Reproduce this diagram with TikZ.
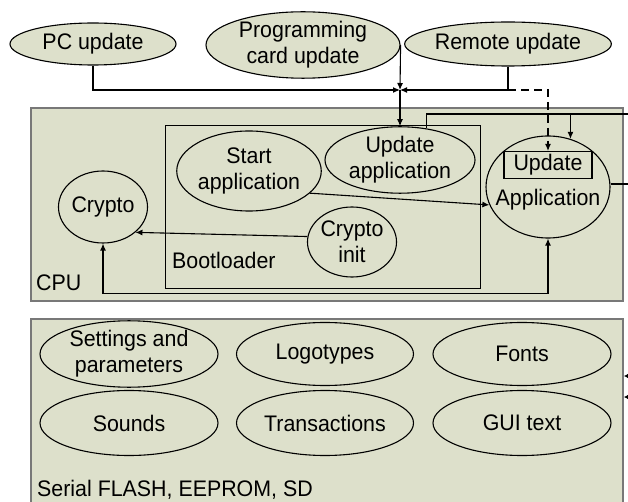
\documentclass[tikz,border=0pt]{standalone}
\usepackage{fontspec}
\setmainfont{Liberation Sans}[FakeStretch=0.95]
\usetikzlibrary{arrows.meta,shapes.geometric}
\definecolor{bg}{RGB}{221,224,203}
\definecolor{framec}{RGB}{120,120,120}
\begin{document}
\begin{tikzpicture}[x=1pt,y=-1pt,
  font=\fontsize{22.5}{26}\selectfont,
  ell/.style={ellipse, draw=black, line width=1.1pt, fill=bg, inner sep=0pt, align=center},
  box/.style={rectangle, draw=framec, line width=2pt, fill=bg, inner sep=0pt, anchor=north west},
  inbox/.style={rectangle, draw=black, line width=1.1pt, inner sep=0pt, anchor=north west},
  conn/.style={draw=black, line width=1.1pt},
  tip/.style={-{Latex[length=7pt,width=6pt]}},
  lbl/.style={inner sep=0pt, anchor=west}]
\useasboundingbox (0,0) rectangle (628,502);
% top sources
\node[ell, minimum width=166, minimum height=42] (pc) at (93,44) {PC update};
\node[ell, minimum width=194, minimum height=66] (prog) at (303,45) {Programming\\card update};
\node[ell, minimum width=177, minimum height=44] (remote) at (508,44) {Remote update};
% CPU
\node[box, minimum width=592, minimum height=193] (cpu) at (30,107) {};
\node[lbl] (cpulbl) at (36,283) {CPU};
\node[inbox, minimum width=315, minimum height=163] (boot) at (165,125) {};
\node[lbl] (bootlbl) at (172,260) {Bootloader};
\node[ell, minimum width=138, minimum height=80] (start) at (249,171) {Start\\application};
\node[ell, minimum width=150, minimum height=60] (upd) at (400,160) {Update\\application};
\node[ell, minimum width=86, minimum height=72] (crypto) at (103,207) {Crypto};
\node[ell, minimum width=84, minimum height=70] (cinit) at (352,242) {Crypto\\init};
\node[ell, minimum width=124, minimum height=102] (app) at (548,187) {};
\node[rectangle, draw=black, line width=1.1pt, minimum width=88, minimum height=27, inner sep=0pt] (updbox) at (548,165) {Update};
\node[inner sep=0pt] (applbl) at (548,200) {Application};
% connectors on top
\coordinate (j) at (400,90);
\draw[conn, tip] (pc.south) |- (j);
\draw[conn, tip] (remote.south) |- (j);
\draw[conn, tip] (prog.east) -- (j);
\draw[conn, tip] (j) -- (upd.north);
\draw[conn, tip, dash pattern=on 8pt off 5pt] (remote.south |- j) -| (updbox.north);
% update application outgoing
\coordinate (e1) at (628,114);
\draw[conn] (upd.50) |- (e1);
\draw[conn, tip] (app.65 |- e1) -- (app.65);
\coordinate (e2) at (628,184);
\draw[conn] (app.east |- e2) -- (e2);
% internal arrows
\draw[conn, tip] (start.-20) -- (app.-163);
\draw[conn, tip] (cinit.173) -- (crypto.-38);
\draw[conn, {Latex[length=7pt,width=6pt]}-{Latex[length=7pt,width=6pt]}] (crypto.south) -- ++(0,50) -| (app.south);
% serial memory
\node[box, minimum width=592, minimum height=190] (mem) at (30,318) {};
\node[lbl] (memlbl) at (37,490) {Serial FLASH, EEPROM, SD};
\node[ell, minimum width=178, minimum height=63] (settings) at (129,354) {Settings and\\parameters};
\node[ell, minimum width=177, minimum height=63] (logo) at (325,354) {Logotypes};
\node[ell, minimum width=178, minimum height=63] (fonts) at (522,354) {Fonts};
\node[ell, minimum width=178, minimum height=65] (sounds) at (129,423) {Sounds};
\node[ell, minimum width=177, minimum height=65] (trans) at (325,423) {Transactions};
\node[ell, minimum width=178, minimum height=65] (gui) at (522,423) {GUI text};
\coordinate (r1) at (628,376);
\coordinate (r2) at (628,397);
\draw[conn, -{Latex[length=5pt,width=6pt]}] (r1) -- (r1 -| mem.east);
\draw[conn, -{Latex[length=5pt,width=6pt]}] (r2) -- (r2 -| mem.east);
\end{tikzpicture}
\end{document}
